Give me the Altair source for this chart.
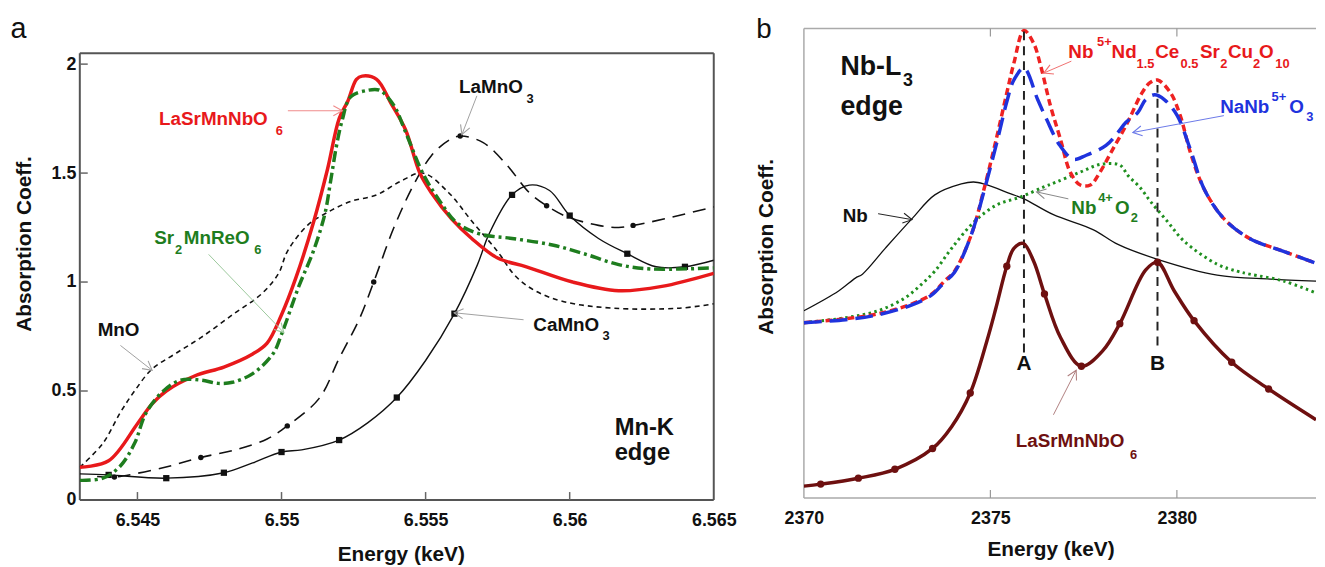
import math
import altair as alt
import pandas as pd

FONT = "Liberation Sans"

# ---------------- Panel a : Mn-K edge ----------------
LSMNO_X = [6.5430, 6.5440, 6.5450, 6.5455, 6.5460, 6.5470, 6.5480, 6.5490, 6.5495, 6.5500,
           6.5505, 6.5511, 6.5516, 6.5520, 6.5523, 6.5526, 6.5528, 6.5533, 6.5538, 6.5543,
           6.5548, 6.5552, 6.5559, 6.5566, 6.5575, 6.5585, 6.5601, 6.5617, 6.5632, 6.5650]
LSMNO_Y = [0.15, 0.18, 0.35, 0.44, 0.50, 0.57, 0.61, 0.67, 0.72, 0.85,
           1.02, 1.27, 1.52, 1.75, 1.83, 1.93, 1.945, 1.93, 1.82, 1.70,
           1.50, 1.41, 1.29, 1.20, 1.11, 1.07, 1.00, 0.96, 0.98, 1.04]

SMRO_X = [6.5430, 6.5438, 6.5444, 6.5449, 6.5453, 6.5459, 6.5465, 6.5472, 6.5478, 6.5483,
          6.5490, 6.5497, 6.5500, 6.5506, 6.5511, 6.5515, 6.5517, 6.5519, 6.5521, 6.5524,
          6.5530, 6.5534, 6.5539, 6.5543, 6.5549, 6.5555, 6.5561, 6.5569, 6.5580, 6.5594,
          6.5605, 6.5617, 6.5628, 6.5650]
SMRO_Y = [0.09, 0.10, 0.155, 0.26, 0.40, 0.50, 0.55, 0.55, 0.535, 0.54,
          0.58, 0.67, 0.76, 0.98, 1.14, 1.31, 1.46, 1.62, 1.74, 1.85,
          1.88, 1.88, 1.81, 1.69, 1.50, 1.37, 1.27, 1.22, 1.20, 1.17,
          1.13, 1.08, 1.06, 1.065]

MNO_X = [6.5430, 6.5438, 6.5444, 6.5449, 6.5455, 6.5463, 6.5472, 6.5483, 6.5493, 6.5499,
         6.5502, 6.5509, 6.5516, 6.5524, 6.5533, 6.5541, 6.5549, 6.5558, 6.5566, 6.5575,
         6.5581, 6.5588, 6.5598, 6.5615, 6.5638, 6.5650]
MNO_Y = [0.15, 0.26, 0.40, 0.50, 0.60, 0.67, 0.745, 0.85, 0.945, 1.04,
         1.14, 1.26, 1.32, 1.37, 1.40, 1.46, 1.50, 1.41, 1.28, 1.14,
         1.03, 0.96, 0.91, 0.88, 0.88, 0.90]

LAMNO_X = [6.5436, 6.5442, 6.5449, 6.5461, 6.5472, 6.5484, 6.5495, 6.5502, 6.5513, 6.5520,
           6.5527, 6.5532, 6.5539, 6.5546, 6.5552, 6.5558, 6.5562, 6.5570, 6.5578, 6.5586,
           6.5592, 6.5599, 6.5610, 6.5617, 6.5622, 6.5633, 6.5650]
LAMNO_Y = [0.108, 0.105, 0.12, 0.155, 0.195, 0.23, 0.28, 0.34, 0.465, 0.65,
           0.83, 1.00, 1.25, 1.45, 1.58, 1.65, 1.67, 1.64, 1.54, 1.41,
           1.35, 1.30, 1.26, 1.25, 1.26, 1.29, 1.345]
LAMNO_MX = [6.5442, 6.5472, 6.5502, 6.5532, 6.5562, 6.5592, 6.5622]
LAMNO_MY = [0.105, 0.195, 0.34, 1.00, 1.67, 1.35, 1.26]

CAMNO_X = [6.5430, 6.5440, 6.5460, 6.5480, 6.5490, 6.5500, 6.5507, 6.5520, 6.5530, 6.5540,
           6.5550, 6.5560, 6.5568, 6.5572, 6.5580, 6.5586, 6.5593, 6.5600, 6.5610, 6.5620,
           6.5630, 6.5640, 6.5650]
CAMNO_Y = [0.12, 0.115, 0.10, 0.125, 0.17, 0.22, 0.23, 0.275, 0.355, 0.47,
           0.64, 0.855, 1.08, 1.22, 1.40, 1.445, 1.42, 1.305, 1.20, 1.13,
           1.07, 1.07, 1.10]
CAMNO_MX = [6.544, 6.546, 6.548, 6.550, 6.552, 6.554, 6.556, 6.558, 6.560, 6.562, 6.564]
CAMNO_MY = [0.115, 0.10, 0.125, 0.22, 0.275, 0.47, 0.855, 1.40, 1.305, 1.13, 1.07]

A_XTICKS = [6.545, 6.55, 6.555, 6.56, 6.565]
A_YTICKS = [0, 0.5, 1, 1.5, 2]

# ---------------- Panel b : Nb-L3 edge ----------------
NDCE_X = [2370.00, 2371.12, 2371.99, 2372.90, 2373.43, 2373.77, 2374.04, 2374.49, 2374.83, 2375.18,
          2375.44, 2375.63, 2375.90, 2376.16, 2376.35, 2376.61, 2376.88, 2377.14, 2377.41, 2377.68,
          2377.94, 2378.25, 2378.65, 2379.05, 2379.27, 2379.48, 2379.83, 2380.09, 2380.36, 2380.73,
          2381.26, 2381.95, 2382.86, 2383.73]
NDCE_Y = [1.77, 1.81, 1.86, 1.96, 2.06, 2.19, 2.29, 2.66, 3.12, 3.66,
          4.09, 4.39, 4.72, 4.59, 4.36, 3.96, 3.62, 3.29, 3.16, 3.16,
          3.29, 3.50, 3.77, 4.08, 4.19, 4.22, 4.09, 3.86, 3.49, 3.12,
          2.82, 2.62, 2.49, 2.37]

NANBO_X = [2370.00, 2371.12, 2371.99, 2372.90, 2373.43, 2373.77, 2374.04, 2374.49, 2374.83, 2375.18,
           2375.44, 2375.63, 2375.90, 2376.27, 2376.51, 2376.86, 2377.22, 2377.57, 2378.10, 2378.42,
           2378.63, 2378.95, 2379.16, 2379.40, 2379.67, 2380.01, 2380.36, 2380.73, 2381.26, 2381.95,
           2382.86, 2383.73]
NANBO_Y = [1.77, 1.80, 1.85, 1.95, 2.05, 2.18, 2.28, 2.66, 3.10, 3.60,
           4.00, 4.22, 4.34, 4.02, 3.82, 3.56, 3.42, 3.46, 3.56, 3.69,
           3.79, 3.89, 4.02, 4.07, 4.02, 3.86, 3.52, 3.12, 2.82, 2.62,
           2.49, 2.37]

NBO2_X = [2370.00, 2371.12, 2371.99, 2372.71, 2373.16, 2373.51, 2373.96, 2374.57, 2375.18, 2375.82,
          2376.43, 2376.77, 2377.41, 2377.97, 2378.47, 2378.70, 2379.00, 2379.30, 2379.75, 2380.20,
          2381.08, 2381.61, 2381.95, 2382.86, 2383.73]
NBO2_Y = [1.77, 1.82, 1.89, 2.02, 2.16, 2.29, 2.52, 2.79, 2.96, 3.04,
          3.14, 3.19, 3.29, 3.37, 3.36, 3.25, 3.14, 2.99, 2.79, 2.59,
          2.36, 2.29, 2.26, 2.19, 2.07]

NB_X = [2370.00, 2370.93, 2371.38, 2371.57, 2372.18, 2372.90, 2373.51, 2374.22, 2374.55, 2374.83,
        2375.55, 2375.90, 2376.69, 2377.75, 2378.42, 2379.48, 2381.08, 2382.50, 2383.73]
NB_Y = [1.89, 2.09, 2.22, 2.26, 2.52, 2.82, 3.06, 3.17, 3.19, 3.17,
        3.07, 3.02, 2.86, 2.71, 2.56, 2.41, 2.25, 2.21, 2.19]

LSMNB_X = [2370.00, 2370.45, 2371.46, 2372.44, 2373.45, 2373.96, 2374.46, 2374.91, 2375.15, 2375.44,
           2375.63, 2375.88, 2376.16, 2376.45, 2376.88, 2377.44, 2378.02, 2378.47, 2379.16, 2379.48,
           2379.93, 2380.46, 2381.47, 2382.46, 2383.73]
LSMNB_Y = [0.12, 0.14, 0.20, 0.29, 0.50, 0.72, 1.06, 1.59, 1.92, 2.34,
           2.52, 2.57, 2.39, 2.06, 1.62, 1.33, 1.49, 1.76, 2.30, 2.38,
           2.09, 1.79, 1.37, 1.10, 0.79]
LSMNB_MX = [2370.45, 2371.46, 2372.44, 2373.45, 2374.46, 2375.44, 2376.45, 2377.44, 2378.47,
            2379.48, 2380.46, 2381.47, 2382.46]
LSMNB_MY = [0.14, 0.20, 0.29, 0.50, 1.06, 2.34, 2.06, 1.33, 1.76, 2.38, 1.79, 1.37, 1.10]

PEAK_LABELS = ["A", "B"]
PEAK_X = [2375.90, 2379.48]
PEAK_TOP = [4.72, 4.17]
PEAK_BOT = [1.47, 1.54]
PEAK_LABEL_Y = [1.29, 1.29]

B_XTICKS = [2370, 2375, 2380]

# ---------------- annotations (text pieces, data coords) ----------------
RED = "#e8191b"
GREEN = "#1e7d1e"
BLUE = "#1f33dd"
MAROON = "#6e1010"
BLACK = "#111111"

A_TEXT = [
    ("LaSrMnNbO", 6.54575, 1.7227, 19, RED), ("6", 6.54980, 1.677, 13, RED),
    ("LaMnO", 6.55616, 1.868, 19, BLACK), ("3", 6.55850, 1.823, 13, BLACK),
    ("Sr", 6.54558, 1.1727, 19, GREEN), ("2", 6.54630, 1.127, 13, GREEN),
    ("MnReO", 6.54661, 1.1727, 19, GREEN), ("6", 6.54905, 1.127, 13, GREEN),
    ("MnO", 6.54362, 0.7545, 19, BLACK),
    ("CaMnO", 6.55874, 0.777, 19, BLACK), ("3", 6.56114, 0.732, 13, BLACK),
    ("Mn-K", 6.56156, 0.300, 24, BLACK), ("edge", 6.56156, 0.182, 24, BLACK),
]
A_ARROWS = [  # x0, y0 (tail) -> x1, y1 (tip), colour
    (6.55022, 1.786, 6.55211, 1.786, "#f08a8a"),
    (6.55678, 1.8545, 6.55626, 1.677, "#a0a0a0"),
    (6.54747, 1.127, 6.55008, 0.768, "#9cc89c"),
    (6.54441, 0.709, 6.54551, 0.595, "#a0a0a0"),
    (6.55840, 0.827, 6.55599, 0.859, "#a0a0a0"),
]

B_TEXT = [
    ("Nb-L", 2370.98, 4.27, 27, BLACK), ("3", 2372.66, 4.16, 18, BLACK),
    ("edge", 2370.98, 3.87, 27, BLACK),
    ("Nb", 2371.04, 2.79, 19, BLACK),
    ("Nb", 2377.09, 4.44, 19, RED), ("5+", 2377.86, 4.56, 13, RED),
    ("Nd", 2378.25, 4.44, 19, RED), ("1.5", 2378.92, 4.34, 13, RED),
    ("Ce", 2379.42, 4.44, 19, RED), ("0.5", 2380.10, 4.34, 13, RED),
    ("Sr", 2380.62, 4.44, 19, RED), ("2", 2381.16, 4.34, 13, RED),
    ("Cu", 2381.37, 4.44, 19, RED), ("2", 2382.04, 4.34, 13, RED),
    ("O", 2382.20, 4.44, 19, RED), ("10", 2382.64, 4.34, 13, RED),
    ("NaNb", 2381.16, 3.89, 19, BLUE), ("5+", 2382.54, 4.01, 13, BLUE),
    ("O", 2383.01, 3.89, 19, BLUE), ("3", 2383.47, 3.81, 13, BLUE),
    ("Nb", 2377.17, 2.87, 19, GREEN), ("4+", 2377.89, 2.99, 13, GREEN),
    ("O", 2378.34, 2.87, 19, GREEN), ("2", 2378.76, 2.79, 13, GREEN),
    ("LaSrMnNbO", 2375.68, 0.51, 19, MAROON), ("6", 2378.74, 0.39, 13, MAROON),
]
B_ARROWS = [
    (2371.99, 2.87, 2372.90, 2.81, "#222222"),
    (2377.17, 4.41, 2376.43, 4.29, "#f07070"),
    (2381.26, 3.86, 2378.82, 3.69, "#6a78e8"),
    (2377.09, 3.02, 2376.24, 3.09, "#888888"),
    (2376.69, 0.84, 2377.30, 1.29, "#b08080"),
]

# ---------------- geometry ----------------
A_W, A_H = 640, 476
A_XDOM = [6.543, 6.565]
A_YDOM = [0, 2.1636]
A_YFRAME = 2.05
B_W, B_H = 517, 474
B_XDOM = [2370, 2383.73]
B_YDOM = [0, 4.74]

ARROW_PATH = "M -1 -0.55 L 0 0 L -1 0.55"
INTERP = "catmull-rom"


class Panel:
    def __init__(self, xdom, ydom, w, h, xaxis, yaxis):
        self.xdom, self.ydom, self.w, self.h = xdom, ydom, w, h
        self.sx = w / (xdom[1] - xdom[0])
        self.sy = h / (ydom[1] - ydom[0])
        self.xaxis, self.yaxis = xaxis, yaxis
        self.layers = []

    def X(self, f="x"):
        return alt.X(f"{f}:Q", scale=alt.Scale(domain=self.xdom, nice=False, zero=False),
                     axis=self.xaxis)

    def Y(self, f="y"):
        return alt.Y(f"{f}:Q", scale=alt.Scale(domain=self.ydom, nice=False, zero=False),
                     axis=self.yaxis)

    def line(self, xs, ys, color, width, dash=None, cap="butt"):
        df = pd.DataFrame({"x": xs, "y": ys, "o": range(len(xs))})
        kw = dict(color=color, strokeWidth=width, interpolate=INTERP, strokeCap=cap,
                  clip=True)
        if dash:
            kw["strokeDash"] = dash
        self.layers.append(alt.Chart(df).mark_line(**kw).encode(
            x=self.X(), y=self.Y(), order="o:Q"))

    def points(self, xs, ys, color, shape, size):
        df = pd.DataFrame({"x": xs, "y": ys})
        self.layers.append(alt.Chart(df).mark_point(
            shape=shape, filled=True, color=color, size=size, opacity=1).encode(
            x=self.X(), y=self.Y()))

    def segments(self, segs, color, width, dash=None):
        df = pd.DataFrame(segs, columns=["x", "y", "x2", "y2"])
        kw = dict(color=color, strokeWidth=width)
        if dash:
            kw["strokeDash"] = dash
        self.layers.append(alt.Chart(df).mark_rule(**kw).encode(
            x=self.X(), y=self.Y(), x2=alt.X2("x2"), y2=alt.Y2("y2")))

    def texts(self, pieces):
        df = pd.DataFrame(pieces, columns=["t", "x", "y", "s", "c"])
        self.layers.append(alt.Chart(df).mark_text(
            align="left", baseline="alphabetic", font=FONT, fontWeight="bold").encode(
            x=self.X(), y=self.Y(), text="t:N",
            size=alt.Size("s:Q", scale=None), color=alt.Color("c:N", scale=None)))

    def arrows(self, arrows):
        df = pd.DataFrame(arrows, columns=["x0", "y0", "x", "y", "c"])
        df["xs"] = df["x0"]
        df["ys"] = df["y0"]
        self.layers.append(alt.Chart(df).mark_rule(strokeWidth=1).encode(
            x=self.X("xs"), y=self.Y("ys"), x2=alt.X2("x"), y2=alt.Y2("y"),
            color=alt.Color("c:N", scale=None)))
        ang = []
        for x0, y0, x1, y1, _ in arrows:
            dx = (x1 - x0) * self.sx
            dy = -(y1 - y0) * self.sy
            ang.append(math.degrees(math.atan2(dy, dx)) % 360)
        df["a"] = ang
        self.layers.append(alt.Chart(df).mark_point(
            shape=ARROW_PATH, filled=False, strokeWidth=1.1, size=330, opacity=1).encode(
            x=self.X(), y=self.Y(), angle=alt.Angle("a:Q", scale=None),
            color=alt.Color("c:N", scale=None)))

    def letter(self, s, px, py, size):
        self.layers.append(alt.Chart(pd.DataFrame({"t": [s]})).mark_text(
            align="left", baseline="alphabetic", font=FONT, fontSize=size,
            fontWeight="normal", color="#111").encode(
            text="t:N", x=alt.value(px), y=alt.value(py)))

    def chart(self):
        return alt.layer(*self.layers).properties(width=self.w, height=self.h)


def axis_common(**kw):
    base = dict(domain=False, ticks=False, tickSize=0, grid=False, labelFont=FONT,
                labelFontSize=18, labelFontWeight="bold", labelColor=BLACK,
                titleFont=FONT, titleFontSize=21, titleFontWeight="bold", titleColor=BLACK,
                labelFlush=False)
    base.update(kw)
    return alt.Axis(**base)


# ---------------- panel a ----------------
pa = Panel(A_XDOM, A_YDOM, A_W, A_H,
           axis_common(values=A_XTICKS, format="~g", title="Energy (keV)", labelPadding=12,
                       titleBaseline="middle", titleY=55, titleX=A_W / 2 + 4),
           axis_common(values=A_YTICKS, format="~g", title="Absorption Coeff.", labelPadding=4,
                       titleAngle=270, titleAlign="center", titleBaseline="middle",
                       titleX=-56, titleY=217))

x0, x1 = A_XDOM
pa.segments([(x0, 0, x1, 0), (x0, A_YFRAME, x1, A_YFRAME), (x0, 0, x0, A_YFRAME),
             (x1, 0, x1, A_YFRAME)], "#555555", 2)
tl = 8
pa.segments([(v, 0, v, tl / pa.sy) for v in A_XTICKS[:-1]] +
            [(x0, v, x0 + tl / pa.sx, v) for v in A_YTICKS[1:]], "#666666", 1.5)

pa.line(MNO_X, MNO_Y, "#111111", 1.6, [5, 4])
pa.line(LAMNO_X, LAMNO_Y, "#111111", 1.6, [13, 8])
pa.points(LAMNO_MX, LAMNO_MY, "#111111", "circle", 30)
pa.line(CAMNO_X, CAMNO_Y, "#111111", 1.4)
pa.points(CAMNO_MX, CAMNO_MY, "#111111", "square", 40)
pa.line(LSMNO_X, LSMNO_Y, RED, 3.5)
pa.line(SMRO_X, SMRO_Y, GREEN, 3.5, [11, 4, 3, 4])
pa.arrows(A_ARROWS)
pa.texts(A_TEXT)
pa.letter("a", -70, 10, 29)

# ---------------- panel b ----------------
pb = Panel(B_XDOM, B_YDOM, B_W, B_H,
           axis_common(values=B_XTICKS, format="d", title="Energy (keV)", labelPadding=12,
                       titleBaseline="middle", titleY=52, titleX=249),
           axis_common(labels=False, title="Absorption Coeff.", titleAngle=270,
                       titleAlign="center", titleBaseline="middle", titleX=-38, titleY=220))
bx0, bx1 = B_XDOM
by1 = B_YDOM[1]
pb.segments([(bx0, 0, bx1, 0), (bx0, by1, bx1, by1), (bx0, 0, bx0, by1)], "#aaaaaa", 1.5)
pb.segments([(v, 0, v, tl / pb.sy) for v in B_XTICKS[1:]] +
            [(v, by1, v, by1 - tl / pb.sy) for v in B_XTICKS[1:]], "#999999", 1.2)

pb.line(NB_X, NB_Y, "#111111", 1.3)
pb.line(NBO2_X, NBO2_Y, "#1f8f1f", 3, [2.5, 3.5])
pb.line(NDCE_X, NDCE_Y, "#ee2222", 3.5, [7, 4])
pb.line(NANBO_X, NANBO_Y, "#1f33dd", 3.5, [18, 8])
pb.segments([(x, b, x, t) for x, b, t in zip(PEAK_X, PEAK_BOT, PEAK_TOP)], "#222222", 2, [9, 6])
pb.line(LSMNB_X, LSMNB_Y, MAROON, 3.5)
pb.points(LSMNB_MX, LSMNB_MY, MAROON, "circle", 55)
pb.arrows(B_ARROWS)
pb.texts(B_TEXT)
pk = pd.DataFrame({"t": PEAK_LABELS, "x": PEAK_X, "y": PEAK_LABEL_Y})
pb.layers.append(alt.Chart(pk).mark_text(
    align="center", baseline="alphabetic", font=FONT, fontSize=21, fontWeight="bold",
    color=BLACK).encode(x=pb.X(), y=pb.Y(), text="t:N"))
pb.letter("b", -48, 10, 28)

chart = alt.hconcat(pa.chart(), pb.chart(), spacing=91, bounds="flush").properties(
    padding={"left": 2.5, "top": 5, "right": 0, "bottom": 0}, background="white"
).configure_view(strokeWidth=0)

chart.save("out.html", embed_options={"renderer": "svg", "actions": False})
